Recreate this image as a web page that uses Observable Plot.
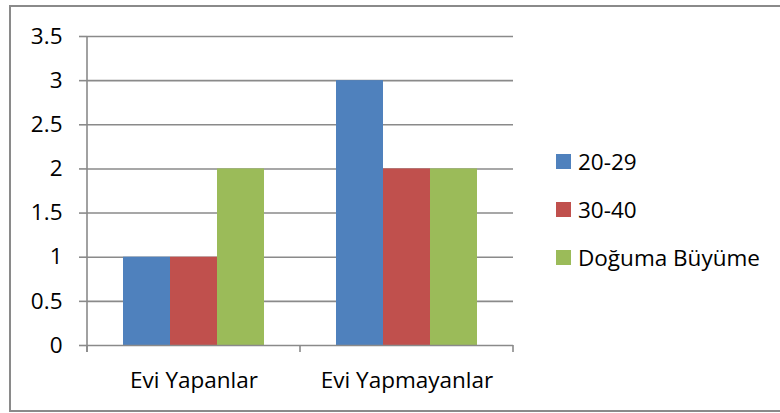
<!DOCTYPE html>
<html>
<head>
<meta charset="utf-8">
<script src="https://cdn.jsdelivr.net/npm/d3@7"></script>
<script src="https://cdn.jsdelivr.net/npm/@observablehq/plot@0.6"></script>
<style>
  html, body { margin: 0; padding: 0; background: #fff; overflow: hidden; width: 780px; height: 413px; }
  #frame { position: absolute; left: 9px; top: 5px; width: 800px; height: 407px; box-sizing: border-box; border: 2px solid #8a8a8a; }
  #chart { position: absolute; left: 0; top: 0; }
  #legend { position: absolute; left: 556px; top: 137px; font-family: "Open Sans", sans-serif; font-size: 22.5px; color: #000; }
  .row { display: flex; align-items: center; height: 48px; white-space: nowrap; }
  .sw { width: 15px; height: 15px; margin-right: 7px; flex: none; }
</style>
</head>
<body>
<div id="frame"></div>
<div id="chart"></div>
<div id="legend"></div>
<script>
const categories = ["Evi Yapanlar", "Evi Yapmayanlar"];
const seriesNames = ["20-29", "30-40", "Doğuma Büyüme"];
const values2029 = [1, 3];
const values3040 = [1, 2];
const valuesDoguma = [2, 2];
const yTicks = [0, 0.5, 1, 1.5, 2, 2.5, 3, 3.5];
const colors = ["#4F81BD", "#C0504D", "#9BBB59"];
const gridColor = "#8a8a8a";

const seriesValues = [values2029, values3040, valuesDoguma];
const data = [];
categories.forEach((c, i) => {
  seriesNames.forEach((s, j) => data.push({category: c, series: s, value: seriesValues[j][i]}));
});

function edgeLines(rows, opts) {
  return Plot.ruleY(rows, {
    fx: "category",
    y: () => 0,
    render(index, scales, values, dimensions) {
      if (!index.length) return null;
      const r = scales.x.range();
      const y0 = scales.y(0);
      const g = d3.create("svg:g").attr("stroke", gridColor).attr("stroke-width", 1.6);
      const xs = [];
      if (opts.left) xs.push(r[0]);
      if (opts.right) xs.push(r[1]);
      for (const x of xs) {
        g.append("line").attr("x1", x).attr("x2", x)
          .attr("y1", opts.full ? scales.y(yTicks[yTicks.length - 1]) : y0)
          .attr("y2", y0 + 7);
      }
      return g.node();
    }
  });
}

const chart = Plot.plot({
  width: 780,
  height: 413,
  marginLeft: 86,
  marginRight: 267,
  marginTop: 36,
  marginBottom: 68,
  style: {fontFamily: "Open Sans, sans-serif", fontSize: "22px", color: "#000", background: "transparent", overflow: "visible"},
  fx: {domain: categories, padding: 0, label: null, axis: null},
  x: {domain: seriesNames, paddingInner: 0, paddingOuter: 0.76, axis: null},
  y: {domain: [0, 3.5], axis: null},
  color: {domain: seriesNames, range: colors},
  marks: [
    Plot.ruleY(yTicks.filter(d => d > 0), {stroke: gridColor, strokeWidth: 1.6}),
    Plot.barY(data, {fx: "category", x: "series", y: "value", fill: "series"}),
    Plot.ruleY([0], {stroke: gridColor, strokeWidth: 1.6}),
    edgeLines(categories.map(c => ({category: c})), {left: true}),
    edgeLines([{category: categories[categories.length - 1]}], {right: true}),
    edgeLines([{category: categories[0]}], {left: true, full: true}),
    Plot.axisY({ticks: yTicks, tickSize: 8, tickPadding: 17, tickFormat: d => String(d), stroke: gridColor, strokeWidth: 1.6, fill: "#000", label: null, fontSize: 22.5}),
    Plot.axisFx({anchor: "bottom", tickSize: 0, tickPadding: 27, label: null, fill: "#000", fontSize: 22.5})
  ]
});
document.getElementById("chart").appendChild(chart);

const legend = document.getElementById("legend");
seriesNames.forEach((s, i) => {
  const row = document.createElement("div");
  row.className = "row";
  const sw = document.createElement("div");
  sw.className = "sw";
  sw.style.background = colors[i];
  const t = document.createElement("span");
  t.textContent = s;
  row.appendChild(sw);
  row.appendChild(t);
  legend.appendChild(row);
});
</script>
</body>
</html>
